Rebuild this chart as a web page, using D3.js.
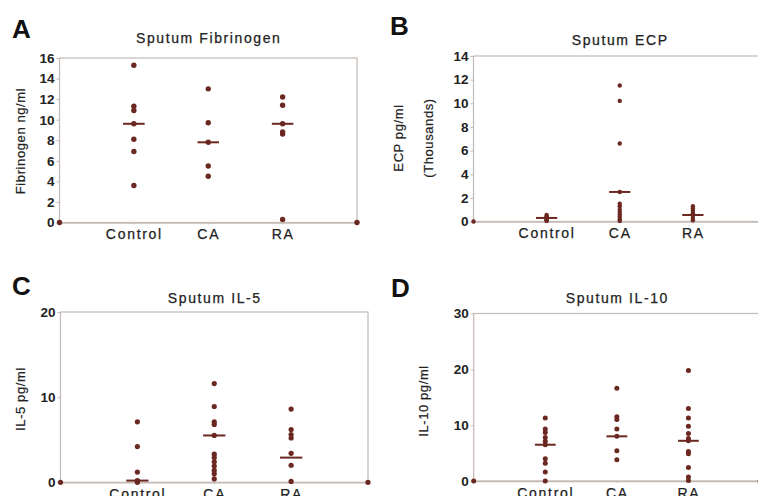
<!DOCTYPE html>
<html>
<head>
<meta charset="utf-8">
<script src="https://cdn.jsdelivr.net/npm/d3@7/dist/d3.min.js"></script>
<style>
  html, body { margin: 0; padding: 0; background: #fff; }
  svg { display: block; }
  text { font-family: "Liberation Sans", Arial, Helvetica, sans-serif; fill: #222; }
</style>
</head>
<body>
<svg id="fig" width="758" height="496"></svg>
<script>
// Groups on the x axis; the two blank slots pad each end of the axis
const categories = ["Control", "CA", "RA"];

// A: sputum fibrinogen (ng/ml)
const fibControl = [15.3, 11.3, 10.9, 9.6, 8.1, 6.9, 3.6];
const fibCA = [13.0, 9.7, 7.8, 5.5, 4.5];
const fibRA = [12.2, 11.4, 9.6, 8.8, 8.6, 0.3];
const fibMedians = [9.6, 7.8, 9.6];
const fibTicks = [0, 2, 4, 6, 8, 10, 12, 14, 16];

// B: sputum ECP (pg/ml, thousands)
const ecpControl = [0.55, 0.45, 0.35, 0.3, 0.2, 0.1, 0.05];
const ecpCA = [11.5, 10.2, 6.6, 2.5, 1.5, 1.3, 1.0, 0.8, 0.6, 0.4, 0.2, 0.05];
const ecpRA = [1.3, 1.1, 0.9, 0.7, 0.5, 0.3, 0.1];
const ecpMedians = [0.3, 2.5, 0.55];
const ecpTicks = [0, 2, 4, 6, 8, 10, 12, 14];

// C: sputum IL-5 (pg/ml)
const il5Control = [7.1, 4.2, 1.2, 0.2, 0.1, 0.0];
const il5CA = [11.6, 8.9, 7.1, 6.8, 5.5, 3.3, 2.9, 2.4, 1.9, 1.4, 1.0, 0.4];
const il5RA = [8.6, 6.2, 5.6, 5.2, 3.4, 2.0, 0.1];
const il5Medians = [0.2, 5.5, 2.9];
const il5Ticks = [0, 10, 20];

// D: sputum IL-10 (pg/ml)
const il10Control = [11.3, 9.3, 8.7, 7.8, 7.1, 6.5, 4.0, 3.2, 1.6, 0.0];
const il10CA = [16.6, 11.5, 11.0, 9.3, 8.0, 5.4, 3.8];
const il10RA = [19.8, 13.0, 11.3, 9.8, 8.5, 7.6, 7.2, 5.3, 4.9, 2.4, 0.7, 0.1];
const il10Medians = [6.5, 8.0, 7.2];
const il10Ticks = [0, 10, 20, 30];

// Values plotted at the two padding slots of every panel
const edgeValues = [0, 0];

const dotColor = "#6b2820";
const frameColor = "#c4bab5";

const panels = [
  { letter: "A", lx: 12, ly: 38, title: "Sputum Fibrinogen", ty: 43,
    box: { left: 59.5, right: 357, top: 58, bottom: 222.5 }, ymax: 16, ticks: fibTicks,
    groups: [fibControl, fibCA, fibRA], medians: fibMedians, r: 2.7,
    ylabel: ["Fibrinogen ng/ml"], ylabelX: [20], ylabelY: 141 },
  { letter: "B", lx: 390, ly: 35, title: "Sputum ECP", ty: 45,
    box: { left: 473.5, right: 766, top: 56, bottom: 221.5 }, ymax: 14, ticks: ecpTicks,
    groups: [ecpControl, ecpCA, ecpRA], medians: ecpMedians, r: 2.2,
    ylabel: ["ECP pg/ml", "(Thousands)"], ylabelX: [398, 428], ylabelY: 138 },
  { letter: "C", lx: 12, ly: 295, title: "Sputum IL-5", ty: 302.5,
    box: { left: 60.5, right: 368, top: 312, bottom: 482.3 }, ymax: 20, ticks: il5Ticks,
    groups: [il5Control, il5CA, il5RA], medians: il5Medians, r: 2.6,
    ylabel: ["IL-5 pg/ml"], ylabelX: [20], ylabelY: 399 },
  { letter: "D", lx: 391, ly: 297, title: "Sputum IL-10", ty: 303,
    box: { left: 473.7, right: 760, top: 313.5, bottom: 481 }, ymax: 30, ticks: il10Ticks,
    groups: [il10Control, il10CA, il10RA], medians: il10Medians, r: 2.5,
    ylabel: ["IL-10 pg/ml"], ylabelX: [423], ylabelY: 401 }
];

const svg = d3.select("#fig");
const slots = ["lo", ...categories, "hi"];

panels.forEach(p => {
  const g = svg.append("g");
  const b = p.box;

  const x = d3.scalePoint().domain(slots).range([b.left, b.right]);
  const y = d3.scaleLinear().domain([0, p.ymax]).range([b.bottom, b.top]);
  const half = x.step() * 0.145;

  // panel letter
  g.append("text")
    .attr("x", p.lx).attr("y", p.ly)
    .style("font-size", "26px").style("font-weight", "bold").style("fill", "#111")
    .text(p.letter);

  // title
  g.append("text")
    .attr("x", (x("Control") + x("RA")) / 2 + 0.5).attr("y", p.ty)
    .attr("text-anchor", "middle")
    .style("font-size", "14px").style("letter-spacing", "1.6px").style("fill", "#222")
    .style("stroke", "#222").style("stroke-width", "0.25px")
    .text(p.title);

  // y axis labels (rotated)
  p.ylabel.forEach((t, i) => {
    g.append("text")
      .attr("transform", `translate(${p.ylabelX[i]},${p.ylabelY}) rotate(-90)`)
      .attr("text-anchor", "middle").attr("dy", "0.35em")
      .style("font-size", "13px").style("letter-spacing", "0.6px").style("fill", "#222")
      .style("stroke", "#222").style("stroke-width", "0.2px")
      .text(t);
  });

  // frame
  g.append("rect")
    .attr("x", b.left).attr("y", b.top)
    .attr("width", b.right - b.left).attr("height", b.bottom - b.top)
    .attr("fill", "none").attr("stroke", frameColor).attr("stroke-width", 1.2);

  // y axis
  const yAxis = g.append("g")
    .attr("transform", `translate(${b.left},0)`)
    .call(d3.axisLeft(y).tickValues(p.ticks).tickSize(3).tickPadding(2).tickFormat(d3.format("d")));
  yAxis.select(".domain").remove();
  yAxis.selectAll("line").attr("stroke", frameColor);
  yAxis.selectAll("text")
    .style("font-size", "13.5px").style("font-weight", "bold").style("fill", "#222");

  // x axis
  const xAxis = g.append("g")
    .attr("transform", `translate(0,${b.bottom})`)
    .call(d3.axisBottom(x).tickSize(2).tickPadding(5)
      .tickFormat(d => categories.includes(d) ? d : ""));
  xAxis.select(".domain").attr("stroke", frameColor).attr("stroke-width", 1.4);
  xAxis.selectAll("line").attr("stroke", frameColor);
  xAxis.selectAll("text")
    .style("font-size", "14px").style("letter-spacing", "1.7px").style("fill", "#222")
    .style("stroke", "#222").style("stroke-width", "0.25px");

  // padding-slot markers at zero
  g.selectAll("circle.edge")
    .data([["lo", edgeValues[0]], ["hi", edgeValues[1]]])
    .join("circle").attr("class", "edge")
    .attr("cx", d => x(d[0])).attr("cy", d => y(d[1]))
    .attr("r", p.r).attr("fill", dotColor);

  // data points
  p.groups.forEach((vals, gi) => {
    const cat = categories[gi];
    g.selectAll(`circle.pt${gi}`)
      .data(vals)
      .join("circle").attr("class", `pt${gi}`)
      .attr("cx", x(cat)).attr("cy", d => y(d))
      .attr("r", p.r).attr("fill", dotColor);
  });

  // median bars
  g.selectAll("line.median")
    .data(p.medians)
    .join("line").attr("class", "median")
    .attr("x1", (d, i) => x(categories[i]) - half)
    .attr("x2", (d, i) => x(categories[i]) + half)
    .attr("y1", d => y(d)).attr("y2", d => y(d))
    .attr("stroke", dotColor).attr("stroke-width", 2);
});
</script>
</body>
</html>
